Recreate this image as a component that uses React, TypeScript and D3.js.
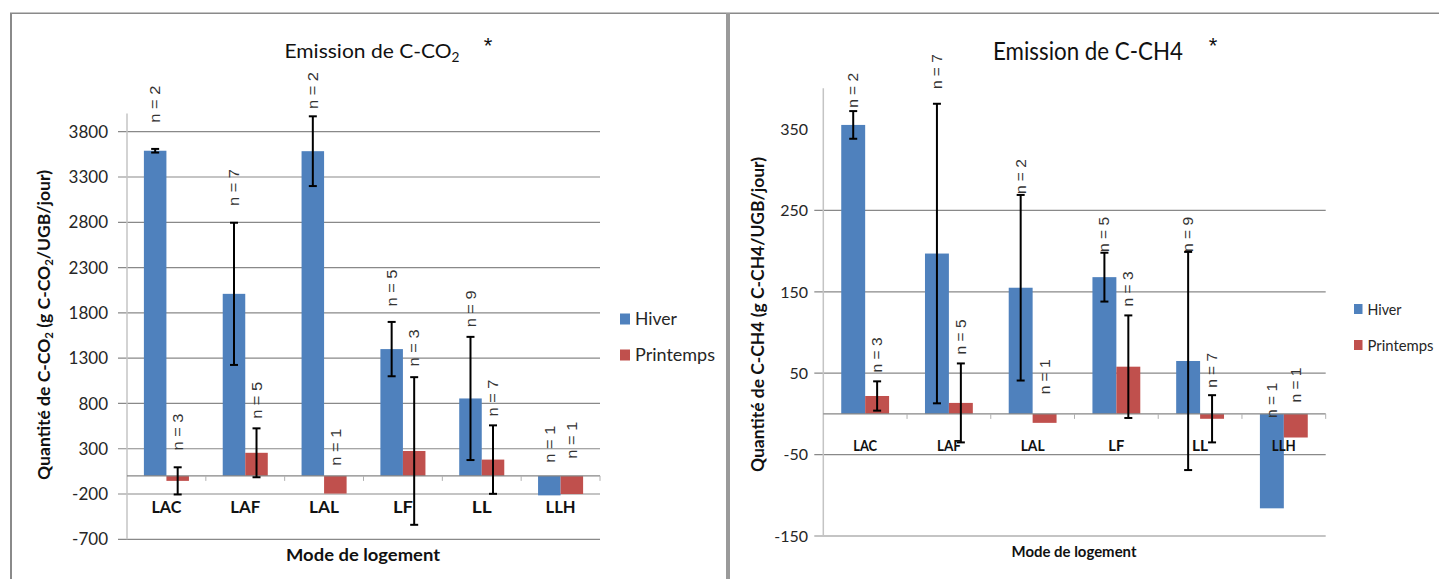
import React from 'react';
import * as d3 from 'd3';

// ---------- DATA ----------
const categories = ['LAC', 'LAF', 'LAL', 'LF', 'LL', 'LLH'];
const seriesNames = ['Hiver', 'Printemps'];

// C-CO2 (g C-CO2/UGB/jour)
const co2Hiver = [3590, 2010, 3585, 1400, 855, -215];
const co2HiverErr = [20, 785, 385, 300, 680, 0];
const co2Printemps = [-55, 255, -195, 275, 180, -200];
const co2PrintempsErr = [150, 270, 0, 815, 378, 0];
const co2HiverN = [2, 7, 2, 5, 9, 1];
const co2PrintempsN = [3, 5, 1, 3, 7, 1];
const co2HiverLabelAt = [3900, 2980, 4050, 1870, 1640, 146];
const co2PrintempsLabelAt = [280, 630, 113, 1208, 655, 190];
const co2Ticks = [-700, -200, 300, 800, 1300, 1800, 2300, 2800, 3300, 3800];
const co2Domain = [-700, 4000];

// C-CH4 (g C-CH4/UGB/jour)
const ch4Hiver = [355, 197, 155, 168, 65, -116];
const ch4HiverErr = [17, 184, 114, 30, 134, 0];
const ch4Printemps = [22, 13.5, -11, 58, -6, -29];
const ch4PrintempsErr = [18, 48.5, 0, 63, 29, 0];
const ch4HiverN = [2, 7, 2, 5, 9, 1];
const ch4PrintempsN = [3, 5, 1, 3, 7, 1];
const ch4HiverLabelAt = [376, 399, 270, 199, 199, -5];
const ch4PrintempsLabelAt = [51, 73, 24, 132, 32, 14];
const ch4Ticks = [-150, -50, 50, 150, 250, 350];
const ch4Grid = [-150, -50, 50, 150, 250];
const ch4Domain = [-150, 400];

const COLORS = ['#4F81BD', '#C0504D'];
const CAL = "Lato, 'Open Sans', sans-serif";
const ARI = "'Liberation Sans', Arial, sans-serif";

type Cfg = {
  x0: number; x1: number; yTop: number; yBot: number;
  domain: number[]; ticks: number[]; grid: number[];
  values: number[][]; errs: number[][]; ns: number[][]; labelAt: number[][];
  tickFont: number; tickRight: number;
  catFont: number; catLen: number;
  nFont: number; nLen: number;
  yTitle: React.ReactNode; yTitleX: number; yTitleY: number; yTitleLen: number; yTitleFont: number;
  xTitleX: number; xTitleY: number; xTitleLen: number; xTitleFont: number;
  title: React.ReactNode; titleX: number; titleY: number; titleFont: number; titleLen: number;
  starX: number; starY: number; starFont: number;
  legX: number; legY: number; legGap: number; legW: number; legH: number; legFont: number; legLens: number[];
};

function Chart({ c }: { c: Cfg }) {
  const y = d3.scaleLinear().domain(c.domain).range([c.yBot, c.yTop]);
  const x = d3.scaleBand<string>().domain(categories).range([c.x0, c.x1]).paddingInner(0).paddingOuter(0);
  const bw = x.bandwidth();
  const barW = bw / 3.5;
  const inner = d3.scaleBand<string>().domain(seriesNames).range([barW * 0.75, barW * 2.75]).padding(0);
  const y0 = y(0);
  const grid = '#898989';
  return (
    <g>
      {c.grid.map((t) => (
        <line key={'g' + t} x1={c.x0 - 9} x2={c.x1} y1={y(t)} y2={y(t)} stroke={grid} strokeWidth={1.2} />
      ))}
      <line x1={c.x0} x2={c.x0} y1={c.yTop} y2={c.yBot} stroke="#c4c4c4" strokeWidth={1.5} />
      {c.ticks.map((t) => (
        <text key={'t' + t} x={c.tickRight} y={y(t)} dy="0.36em" textAnchor="end" fontFamily={CAL}
          fontSize={c.tickFont} fill="#262626">{t}</text>
      ))}
      {categories.map((cat, i) =>
        seriesNames.map((s, j) => {
          const v = c.values[j][i];
          const bx = (x(cat) as number) + (inner(s) as number);
          return (
            <rect key={cat + s} x={bx} width={inner.bandwidth()} y={y(Math.max(0, v))}
              height={Math.abs(y(v) - y0)} fill={COLORS[j]} />
          );
        })
      )}
      <line x1={c.x0} x2={c.x1} y1={y0} y2={y0} stroke="#868686" strokeWidth={1.3} />
      {categories.map((cat, i) => (
        <line key={'ct' + i} x1={(x(cat) as number) + bw} x2={(x(cat) as number) + bw} y1={y0} y2={y0 + 5}
          stroke="#b0b0b0" strokeWidth={1} />
      ))}
      {categories.map((cat, i) =>
        seriesNames.map((s, j) => {
          const e = c.errs[j][i];
          if (!e) return null;
          const v = c.values[j][i];
          const cx = (x(cat) as number) + (inner(s) as number) + inner.bandwidth() / 2;
          const ya = y(v + e), yb = y(v - e);
          return (
            <g key={'e' + cat + s} stroke="#000" strokeWidth={2}>
              <line x1={cx} x2={cx} y1={ya} y2={yb} />
              <line x1={cx - 4} x2={cx + 4} y1={ya} y2={ya} />
              <line x1={cx - 4} x2={cx + 4} y1={yb} y2={yb} />
            </g>
          );
        })
      )}
      {categories.map((cat, i) =>
        seriesNames.map((s, j) => {
          const cx = (x(cat) as number) + (inner(s) as number) + inner.bandwidth() / 2;
          const ly = y(c.labelAt[j][i]);
          return (
            <text key={'n' + cat + s} transform={`translate(${cx},${ly}) rotate(-90)`} x={0} y={0}
              dy="0.35em" textAnchor="start" fontFamily={ARI} fontSize={c.nFont} fill="#333"
              textLength={c.nLen} lengthAdjust="spacingAndGlyphs">{`n = ${c.ns[j][i]}`}</text>
          );
        })
      )}
      {categories.map((cat) => (
        <text key={'cl' + cat} x={(x(cat) as number) + bw / 2} y={y0 + 31} dy="0.36em" textAnchor="middle"
          fontFamily={CAL} fontWeight="bold" fontSize={c.catFont} fill="#111"
          textLength={c.catLen * cat.length / 3} lengthAdjust="spacingAndGlyphs">{cat}</text>
      ))}
      <text transform={`translate(${c.yTitleX},${c.yTitleY}) rotate(-90)`} textAnchor="middle" dy="0.35em"
        fontFamily={CAL} fontWeight="bold" fontSize={c.yTitleFont} fill="#111"
        textLength={c.yTitleLen} lengthAdjust="spacingAndGlyphs">{c.yTitle}</text>
      <text x={c.xTitleX} y={c.xTitleY} textAnchor="middle" dy="0.35em" fontFamily={CAL} fontWeight="bold"
        fontSize={c.xTitleFont} fill="#111" textLength={c.xTitleLen} lengthAdjust="spacingAndGlyphs">Mode de logement</text>
      <text x={c.titleX} y={c.titleY} textAnchor="middle" fontFamily={CAL} fontSize={c.titleFont} fill="#111"
        textLength={c.titleLen} lengthAdjust="spacingAndGlyphs">{c.title}</text>
      <text x={c.starX} y={c.starY} textAnchor="middle" fontFamily={ARI} fontSize={c.starFont} fill="#111">*</text>
      {seriesNames.map((s, j) => (
        <g key={'l' + s}>
          <rect x={c.legX} y={c.legY + j * c.legGap - c.legH / 2} width={c.legW} height={c.legH} fill={COLORS[j]} />
          <text x={c.legX + c.legW + 5} y={c.legY + j * c.legGap} dy="0.36em" fontFamily={CAL}
            fontSize={c.legFont} fill="#262626" textLength={c.legLens[j]} lengthAdjust="spacingAndGlyphs">{s}</text>
        </g>
      ))}
    </g>
  );
}

const leftCfg: Cfg = {
  x0: 127, x1: 600, yTop: 113.6, yBot: 539.3,
  domain: co2Domain, ticks: co2Ticks, grid: co2Ticks,
  values: [co2Hiver, co2Printemps], errs: [co2HiverErr, co2PrintempsErr],
  ns: [co2HiverN, co2PrintempsN], labelAt: [co2HiverLabelAt, co2PrintempsLabelAt],
  tickFont: 17, tickRight: 108,
  catFont: 17, catLen: 30,
  nFont: 15, nLen: 37,
  yTitle: (<>Quantité de C-CO<tspan fontSize="11" dy="3">2</tspan><tspan dy="-3"> (g C-CO</tspan><tspan fontSize="11" dy="3">2</tspan><tspan dy="-3">/UGB/jour)</tspan></>),
  yTitleX: 44, yTitleY: 325, yTitleLen: 310, yTitleFont: 17,
  xTitleX: 363, xTitleY: 555, xTitleLen: 154, xTitleFont: 17.5,
  title: (<>Emission de C-CO<tspan fontSize="13" dy="4">2</tspan></>),
  titleX: 372, titleY: 58, titleFont: 20, titleLen: 175,
  starX: 488, starY: 53, starFont: 22,
  legX: 620, legY: 319, legGap: 36, legW: 10, legH: 11, legFont: 18, legLens: [42, 80],
};

const rightCfg: Cfg = {
  x0: 823.3, x1: 1325.7, yTop: 88.3, yBot: 536,
  domain: ch4Domain, ticks: ch4Ticks, grid: ch4Grid,
  values: [ch4Hiver, ch4Printemps], errs: [ch4HiverErr, ch4PrintempsErr],
  ns: [ch4HiverN, ch4PrintempsN], labelAt: [ch4HiverLabelAt, ch4PrintempsLabelAt],
  tickFont: 16, tickRight: 808,
  catFont: 16, catLen: 24,
  nFont: 14.5, nLen: 35,
  yTitle: 'Quantité de C-CH4 (g C-CH4/UGB/jour)',
  yTitleX: 758, yTitleY: 314.5, yTitleLen: 315, yTitleFont: 16.5,
  xTitleX: 1074, xTitleY: 551.5, xTitleLen: 125, xTitleFont: 16,
  title: 'Emission de C-CH4',
  titleX: 1088, titleY: 60, titleFont: 25, titleLen: 190,
  starX: 1213, starY: 53, starFont: 22,
  legX: 1354, legY: 309, legGap: 36, legW: 8.5, legH: 10, legFont: 16, legLens: [34, 66],
};

export default function App() {
  return (
    <svg width={1439} height={579} style={{ position: 'absolute', left: 0, top: 0, background: '#fff' }}
      xmlns="http://www.w3.org/2000/svg">
      <rect x={0} y={0} width={1439} height={579} fill="#fff" />
      <line x1={10} x2={1439} y1={13.3} y2={13.3} stroke="#8a8a8a" strokeWidth={1.5} />
      <line x1={11} x2={11} y1={13} y2={579} stroke="#8a8a8a" strokeWidth={2} />
      <line x1={728} x2={728} y1={13} y2={579} stroke="#9a9a9a" strokeWidth={4} />
      <Chart c={leftCfg} />
      <Chart c={rightCfg} />
    </svg>
  );
}
